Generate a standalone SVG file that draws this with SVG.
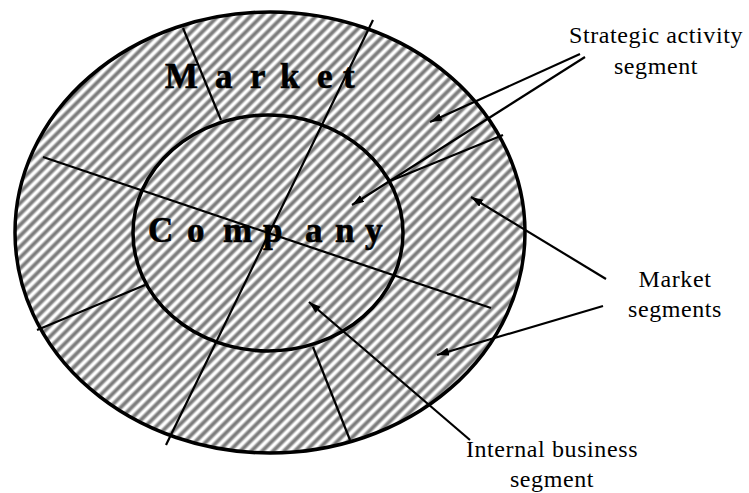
<svg xmlns="http://www.w3.org/2000/svg" width="749" height="493" viewBox="0 0 749 493">
  <defs>
    <!-- soft-edged diagonal stripe -->
    <linearGradient id="stripe" x1="0" y1="0" x2="1" y2="0">
      <stop offset="0" stop-color="#ffffff"/>
      <stop offset="0.12" stop-color="#ffffff"/>
      <stop offset="0.38" stop-color="#7c7c7c"/>
      <stop offset="0.62" stop-color="#7c7c7c"/>
      <stop offset="0.88" stop-color="#ffffff"/>
      <stop offset="1" stop-color="#ffffff"/>
    </linearGradient>
    <pattern id="hatch" patternUnits="userSpaceOnUse" width="7.7" height="20" patternTransform="rotate(45)">
      <rect x="0" y="0" width="7.7" height="20" fill="url(#stripe)"/>
    </pattern>
    <marker id="arrow" markerUnits="userSpaceOnUse" markerWidth="13" markerHeight="9" refX="12" refY="4" orient="auto">
      <path d="M0,0 L12,4 L0,8 z" fill="#000"/>
    </marker>
    <style>
      .ring { fill: url(#hatch); stroke: #000; stroke-width: 3.5; }
      .cut { stroke: #000; stroke-width: 2.2; fill: none; }
      .ptr { stroke: #000; stroke-width: 2.2; fill: none; marker-end: url(#arrow); }
      .big { font-family: "Liberation Serif", "Times New Roman", serif; font-weight: bold; font-size: 35px; fill: #000; stroke: #000; stroke-width: 0.6; }
      .lbl { font-family: "Liberation Serif", "Times New Roman", serif; font-size: 24px; letter-spacing: 0.6px; fill: #000; text-anchor: middle; }
    </style>
  </defs>

  <g id="market">
    <ellipse class="ring" cx="270" cy="232.5" rx="255" ry="220.5"/>
    <text class="big" x="165 215 250 280 317 343" y="88">Market</text>
  </g>

  <g id="company">
    <ellipse class="ring" cx="268" cy="233" rx="135" ry="118"/>
    <text class="big" x="148 187 223 263 305 335 365" y="242">Company</text>
  </g>

  <!-- segment boundaries -->
  <g id="segment-lines">
    <line class="cut" x1="183" y1="28" x2="221" y2="120"/>
    <line class="cut" x1="373" y1="20" x2="166" y2="445"/>
    <line class="cut" x1="43" y1="157" x2="491" y2="308"/>
    <line class="cut" x1="37" y1="330" x2="145" y2="285"/>
    <line class="cut" x1="313" y1="347" x2="350" y2="440"/>
    <line class="cut" x1="390" y1="181" x2="503" y2="135"/>
  </g>

  <g id="label-strategic">
    <text class="lbl" x="656" y="43">Strategic activity</text>
    <text class="lbl" x="656" y="74">segment</text>
  </g>
  <g id="label-market-segments">
    <text class="lbl" x="675" y="287">Market</text>
    <text class="lbl" x="675" y="317">segments</text>
  </g>
  <g id="label-internal">
    <text class="lbl" x="552" y="457">Internal business</text>
    <text class="lbl" x="552" y="487">segment</text>
  </g>

  <!-- pointers from labels -->
  <g id="connectors">
    <line class="ptr" x1="580" y1="54" x2="430" y2="122"/>
    <line class="ptr" x1="585" y1="57" x2="352" y2="205"/>
    <line class="ptr" x1="606" y1="279" x2="471" y2="197"/>
    <line class="ptr" x1="603" y1="306" x2="437" y2="355"/>
    <line class="ptr" x1="470" y1="440" x2="309" y2="302"/>
  </g>
</svg>
